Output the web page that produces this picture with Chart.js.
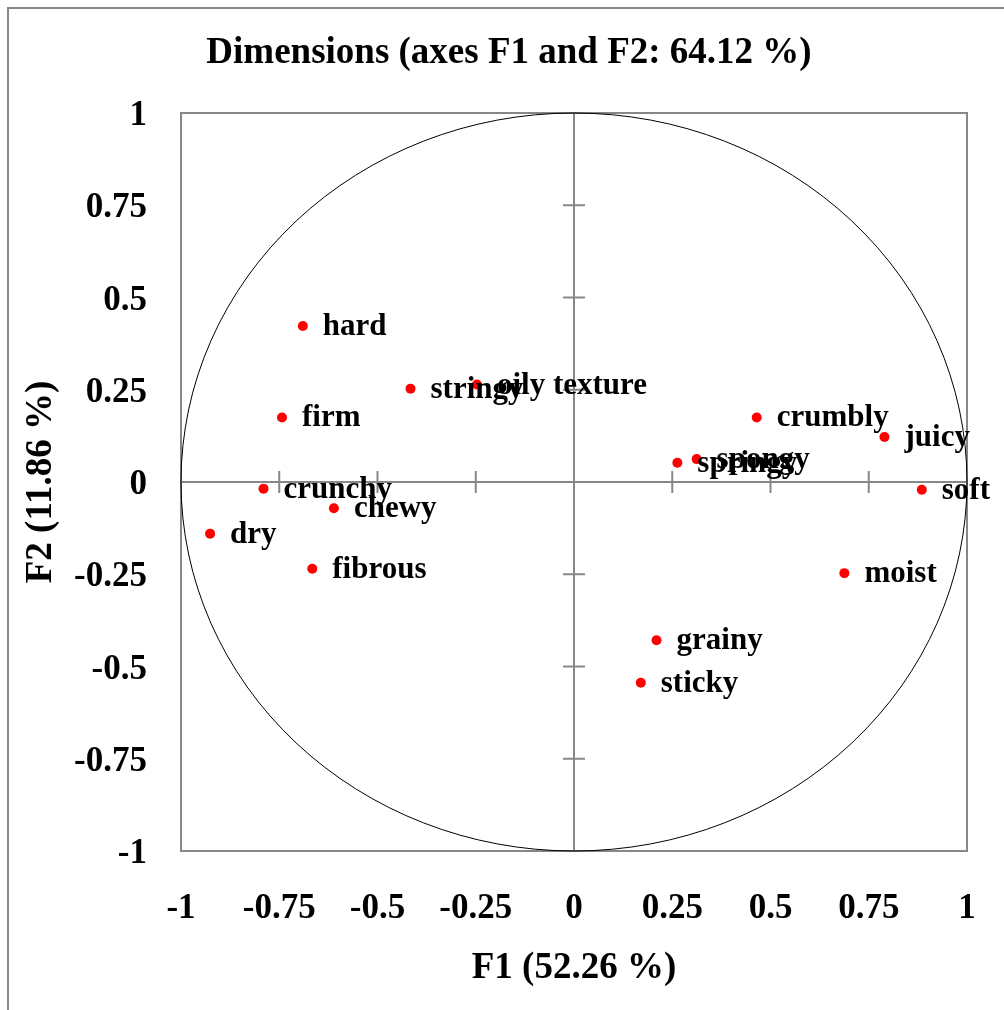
<!DOCTYPE html>
<html>
<head>
<meta charset="utf-8">
<title>Dimensions</title>
<script src="https://cdn.jsdelivr.net/npm/chart.js@4.4.1/dist/chart.umd.min.js"></script>
<style>
  body { margin: 0; background: #fff; }
  canvas { display: block; }
</style>
</head>
<body>
<canvas id="myChart" width="1004" height="1010"></canvas>
<script>
// attributes and their coordinates on F1 / F2
let attributes = ['hard', 'stringy', 'oily texture', 'firm', 'crunchy', 'chewy', 'dry', 'fibrous',
  'crumbly', 'juicy', 'spongy', 'springy', 'soft', 'moist', 'grainy', 'sticky'];
let f1Values = [-0.690, -0.416, -0.247, -0.743, -0.790, -0.611, -0.926, -0.666,
  0.465, 0.790, 0.312, 0.263, 0.885, 0.688, 0.210, 0.170];
let f2Values = [0.423, 0.253, 0.264, 0.175, -0.018, -0.071, -0.140, -0.235,
  0.175, 0.122, 0.062, 0.052, -0.021, -0.247, -0.429, -0.544];
let tickValues = [-1, -0.75, -0.5, -0.25, 0, 0.25, 0.5, 0.75, 1];
let tickLabels = ['-1', '-0.75', '-0.5', '-0.25', '0', '0.25', '0.5', '0.75', '1'];

let chartTitle = 'Dimensions (axes F1 and F2: 64.12 %)';
let xTitle = 'F1 (52.26 %)';
let yTitle = 'F2 (11.86 %)';

let serif = "'Liberation Serif', 'Times New Roman', serif";
let gray = '#878787';

let points = [];
for (let i = 0; i < attributes.length; i++) {
  points.push({ x: f1Values[i], y: f2Values[i] });
}

function tickText(value) {
  let i = tickValues.indexOf(Math.round(value * 100) / 100);
  return i === -1 ? '' : tickLabels[i];
}

// frame, box, axes through the origin, correlation circle, labels
let circlePlot = {
  id: 'circlePlot',
  beforeDraw(chart) {
    let ctx = chart.ctx;
    ctx.save();
    ctx.strokeStyle = gray;
    ctx.lineWidth = 2;
    ctx.strokeRect(8, 8, 2000, 2000);
    ctx.fillStyle = '#000';
    ctx.font = 'bold 37px ' + serif;
    ctx.textAlign = 'center';
    ctx.textBaseline = 'middle';
    ctx.fillText(chartTitle, 509, 53);
    ctx.restore();
  },
  beforeDatasetsDraw(chart) {
    let ctx = chart.ctx;
    let xs = chart.scales.x;
    let ys = chart.scales.y;
    let area = chart.chartArea;
    let x0 = xs.getPixelForValue(0);
    let y0 = ys.getPixelForValue(0);
    ctx.save();
    ctx.strokeStyle = gray;
    ctx.lineWidth = 2;
    ctx.strokeRect(area.left, area.top, area.right - area.left, area.bottom - area.top);

    ctx.beginPath();
    ctx.moveTo(area.left, y0);
    ctx.lineTo(area.right, y0);
    ctx.moveTo(x0, area.top);
    ctx.lineTo(x0, area.bottom);
    for (let v of tickValues) {
      if (v === 0 || Math.abs(v) === 1) continue;
      let px = xs.getPixelForValue(v);
      ctx.moveTo(px, y0 - 11);
      ctx.lineTo(px, y0 + 11);
      let py = ys.getPixelForValue(v);
      ctx.moveTo(x0 - 11, py);
      ctx.lineTo(x0 + 11, py);
    }
    ctx.stroke();

    // unit circle
    let rx = xs.getPixelForValue(1) - x0;
    let ry = y0 - ys.getPixelForValue(1);
    ctx.strokeStyle = '#000';
    ctx.lineWidth = 1;
    ctx.beginPath();
    ctx.ellipse(x0, y0, rx, ry, 0, 0, Math.PI * 2);
    ctx.stroke();
    ctx.restore();
  },
  afterDatasetsDraw(chart) {
    let ctx = chart.ctx;
    let meta = chart.getDatasetMeta(0);
    ctx.save();
    ctx.fillStyle = '#000';
    ctx.font = 'bold 31px ' + serif;
    ctx.textAlign = 'left';
    ctx.textBaseline = 'middle';
    meta.data.forEach(function (pt, i) {
      ctx.fillText(attributes[i], pt.x + 20, pt.y + 1);
    });
    ctx.restore();
  }
};

let ctx = document.getElementById('myChart').getContext('2d');
let myChart = new Chart(ctx, {
  type: 'scatter',
  data: {
    datasets: [{
      data: points,
      backgroundColor: '#ff0000',
      borderWidth: 0,
      pointRadius: 5,
      pointHoverRadius: 5
    }]
  },
  options: {
    responsive: false,
    animation: false,
    layout: { padding: { left: 0, right: 37, top: 113, bottom: 0 } },
    plugins: {
      legend: { display: false },
      title: { display: false },
      tooltip: { enabled: false }
    },
    scales: {
      x: {
        min: -1,
        max: 1,
        afterBuildTicks(scale) {
          scale.ticks = tickValues.map(v => ({ value: v }));
        },
        afterFit(scale) { scale.height = 159; },
        // tickLength only pushes the labels down, the grid itself is hidden
        grid: { display: false, drawTicks: true, tickLength: 37 },
        border: { display: false },
        ticks: {
          padding: 0,
          color: '#000',
          font: { family: serif, size: 35, weight: 'bold' },
          maxRotation: 0,
          autoSkip: false,
          callback: tickText
        },
        title: {
          display: true,
          text: xTitle,
          color: '#000',
          font: { family: serif, size: 37, weight: 'bold' },
          padding: { top: 0, bottom: 19 }
        }
      },
      y: {
        min: -1,
        max: 1,
        afterBuildTicks(scale) {
          scale.ticks = tickValues.map(v => ({ value: v }));
        },
        afterFit(scale) { scale.width = 181; },
        grid: { display: false, drawTicks: false },
        border: { display: false },
        ticks: {
          padding: 34,
          labelOffset: 3,
          color: '#000',
          font: { family: serif, size: 35, weight: 'bold' },
          autoSkip: false,
          callback: tickText
        },
        title: {
          display: true,
          text: yTitle,
          color: '#000',
          font: { family: serif, size: 37, weight: 'bold' },
          padding: { top: 19, bottom: 0 }
        }
      }
    }
  },
  plugins: [circlePlot]
});
</script>
</body>
</html>
